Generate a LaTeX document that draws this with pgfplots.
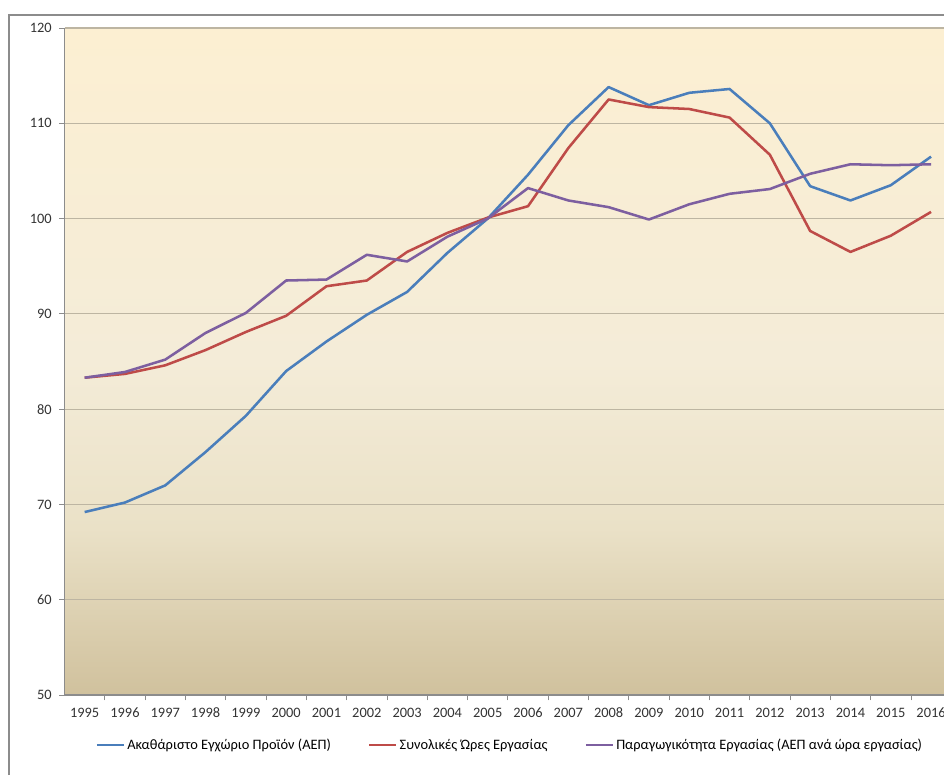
\documentclass[border=0pt]{standalone}
\usepackage{fontspec}
\setmainfont{Carlito}
\usepackage{pgfplots}
\pgfplotsset{compat=1.18}
\usepackage{pgfplotstable}
\usetikzlibrary{calc}
\definecolor{cblue}{HTML}{4A7EBB}
\definecolor{cred}{HTML}{BE4B48}
\definecolor{cpurple}{HTML}{7D5FA0}
\definecolor{bgtop}{HTML}{FCEFD2}
\definecolor{bgmid}{HTML}{F4ECD8}
\definecolor{bgq}{HTML}{EAE1C7}
\definecolor{bgbot}{HTML}{D0C19D}
\definecolor{gridc}{HTML}{BDB5A2}
\definecolor{axc}{HTML}{8C8C8C}
\pgfdeclareverticalshading{bgshade}{100bp}{color(0bp)=(bgbot); color(25bp)=(bgbot); color(37.5bp)=(bgq); color(50bp)=(bgmid); color(75bp)=(bgtop); color(100bp)=(bgtop)}
\pgfplotstableread{
idx gdp hours prod
0 69.2 83.3 83.3
1 70.2 83.7 83.9
2 72.0 84.6 85.2
3 75.5 86.2 88.0
4 79.3 88.1 90.1
5 84.0 89.8 93.5
6 87.1 92.9 93.6
7 89.9 93.5 96.2
8 92.3 96.5 95.5
9 96.4 98.5 98.1
10 100.0 100.1 100.0
11 104.6 101.3 103.2
12 109.8 107.4 101.9
13 113.8 112.5 101.2
14 111.9 111.7 99.9
15 113.2 111.5 101.5
16 113.6 110.6 102.6
17 110.0 106.7 103.1
18 103.4 98.7 104.7
19 101.9 96.5 105.7
20 103.5 98.2 105.6
21 106.5 100.7 105.7
}\datatable
\begin{document}
\begin{tikzpicture}
\begin{axis}[
  name=ax,
  scale only axis,
  width=659.6pt, height=500.25pt,
  xmin=-0.5, xmax=21.32,
  ymin=50, ymax=120,
  ytick={50,60,...,120},
  xtick={0,...,21},
  xticklabels={1995,1996,1997,1998,1999,2000,2001,2002,2003,2004,2005,2006,2007,2008,2009,2010,2011,2012,2013,2014,2015,2016},
  minor xtick={0.5,1.5,...,20.5},
  major x tick style={draw=none},
  minor x tick style={axc, line width=0.6pt},
  major y tick style={axc, line width=0.6pt},
  tick align=outside,
  major tick length=4pt,
  minor tick length=4pt,
  axis x line*=bottom,
  axis y line*=left,
  axis line style={axc, line width=0.8pt},
  ymajorgrids,
  major grid style={gridc, line width=0.9pt},
  tick label style={font=\fontsize{10.8}{12}\selectfont, text=black!80},
  /pgf/number format/assume math mode=true,
  xticklabel style={yshift=-2pt},
  yticklabel style={xshift=-2pt},
  axis background/.style={shading=bgshade},
  legend columns=3,
  legend style={at={(0.507,-0.075)}, anchor=center, draw=none, fill=none,
    font=\fontsize{10.8}{12}\selectfont,
    /tikz/every even column/.append style={column sep=26pt},
    nodes={inner xsep=2pt}},
  legend image code/.code={\draw[#1, line width=1.5pt] (0pt,0pt) -- (20pt,0pt);},
  every axis plot/.append style={line width=1.9pt, line join=round},
]
\addplot[cblue] table[x=idx, y=gdp] {\datatable};
\addlegendentry{Ακαθάριστο Εγχώριο Προϊόν (ΑΕΠ)}
\addplot[cred] table[x=idx, y=hours] {\datatable};
\addlegendentry{Συνολικές Ώρες Εργασίας}
\addplot[cpurple] table[x=idx, y=prod] {\datatable};
\addlegendentry{Παραγωγικότητα Εργασίας (ΑΕΠ ανά ώρα εργασίας)}
\end{axis}
\coordinate (O) at ($(ax.south west)+(-48.375pt,-60pt)$);
\draw[axc, line width=1pt] ($(O)+(6.75pt,0pt)$) -- ($(O)+(6.75pt,570pt)$) -- ($(O)+(708pt,570pt)$);
\pgfresetboundingbox
\useasboundingbox (O) rectangle ($(O)+(708pt,581.25pt)$);
\end{tikzpicture}
\end{document}
